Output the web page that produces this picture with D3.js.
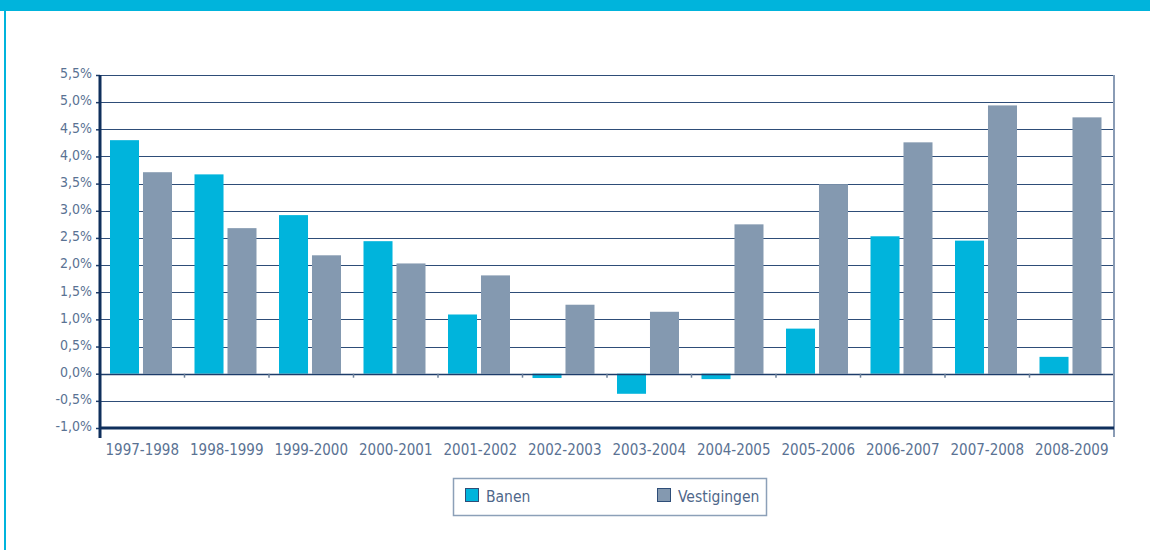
<!DOCTYPE html>
<html>
<head>
<meta charset="utf-8">
<script src="https://cdn.jsdelivr.net/npm/d3@7"></script>
<style>
  body { margin: 0; background: #fff; }
  svg text { font-family: "DejaVu Sans", sans-serif; font-stretch: condensed; }
</style>
</head>
<body>
<script>
// data
var periods = ["1997-1998", "1998-1999", "1999-2000", "2000-2001", "2001-2002", "2002-2003",
               "2003-2004", "2004-2005", "2005-2006", "2006-2007", "2007-2008", "2008-2009"];
var banen = [4.30, 3.67, 2.92, 2.44, 1.09, -0.08, -0.37, -0.10, 0.83, 2.53, 2.45, 0.31];
var vestigingen = [3.71, 2.68, 2.18, 2.03, 1.81, 1.27, 1.14, 2.75, 3.49, 4.26, 4.94, 4.72];
var seriesNames = ["Banen", "Vestigingen"];
var yTicks = [-1, -0.5, 0, 0.5, 1, 1.5, 2, 2.5, 3, 3.5, 4, 4.5, 5, 5.5];

// chart variables
var width = 1150;
var height = 550;
var plotLeft = 100, plotRight = 1114, plotTop = 75, plotBottom = 428;
var cyan = "#00b4dc";
var grey = "#8499b0";
var navy = "#1d3c6a";

var svg = d3.select("body")
            .append("svg")
            .attr("width", width)
            .attr("height", height);

// frame of the page
svg.append("rect").attr("x", 0).attr("y", 0).attr("width", width).attr("height", 11).attr("fill", cyan);
svg.append("rect").attr("x", 4).attr("y", 0).attr("width", 2).attr("height", height).attr("fill", cyan);

// scales
var xScale = d3.scaleBand()
               .domain(periods)
               .range([plotLeft, plotRight]);
var xInner = d3.scaleBand()
               .domain(seriesNames)
               .range([10, 72])
               .paddingInner(0.12);
var yScale = d3.scaleLinear()
               .domain([-1, 5.5])
               .range([plotBottom, plotTop]);

// gridlines
svg.append("g")
   .selectAll("line")
   .data(yTicks.filter(function(d) { return d > -1; }))
   .enter()
   .append("line")
   .attr("x1", plotLeft)
   .attr("x2", plotRight)
   .attr("y1", function(d) { return Math.round(yScale(d)) + 0.5; })
   .attr("y2", function(d) { return Math.round(yScale(d)) + 0.5; })
   .attr("stroke", function(d) { return d === 0 ? navy : "#2e4d78"; })
   .attr("stroke-width", 1.2);

// bars
var rows = periods.map(function(p, i) { return {period: p, values: [banen[i], vestigingen[i]]}; });
var groups = svg.append("g")
                .selectAll("g")
                .data(rows)
                .enter()
                .append("g")
                .attr("transform", function(d) { return "translate(" + xScale(d.period) + ",0)"; });

groups.selectAll("rect")
      .data(function(d) { return d.values.map(function(v, j) { return {name: seriesNames[j], value: v}; }); })
      .enter()
      .append("rect")
      .attr("x", function(d) { return xInner(d.name); })
      .attr("width", xInner.bandwidth())
      .attr("y", function(d) { return yScale(Math.max(0, d.value)); })
      .attr("height", function(d) { return Math.abs(yScale(d.value) - yScale(0)); })
      .attr("fill", function(d) { return d.name === "Banen" ? cyan : grey; });

// redraw zero line over bars
svg.append("line")
   .attr("x1", plotLeft).attr("x2", plotRight)
   .attr("y1", Math.round(yScale(0)) + 0.5).attr("y2", Math.round(yScale(0)) + 0.5)
   .attr("stroke", navy).attr("stroke-width", 1.3);

// ticks between categories on zero line
svg.append("g")
   .selectAll("line")
   .data(periods.slice(1))
   .enter()
   .append("line")
   .attr("x1", function(d) { return xScale(d); })
   .attr("x2", function(d) { return xScale(d); })
   .attr("y1", yScale(0))
   .attr("y2", yScale(0) + 4)
   .attr("stroke", "#6b7f99")
   .attr("stroke-width", 1.5);

// right border
svg.append("line")
   .attr("x1", plotRight).attr("x2", plotRight)
   .attr("y1", plotTop).attr("y2", plotBottom + 9)
   .attr("stroke", "#8a9cb5").attr("stroke-width", 2);

// bottom axis line
svg.append("line")
   .attr("x1", plotLeft).attr("x2", plotRight)
   .attr("y1", plotBottom).attr("y2", plotBottom)
   .attr("stroke", "#0f2f5c").attr("stroke-width", 3);

// y axis
var yAxe = d3.axisLeft(yScale)
             .tickValues(yTicks)
             .tickSize(4)
             .tickFormat(function(d) { return d3.format(".1f")(d).replace(".", ",").replace("−", "-") + "%"; });
var yG = svg.append("g")
            .attr("transform", "translate(" + [plotLeft, 0] + ")")
            .call(yAxe);
yG.select(".domain").remove();
yG.selectAll(".tick line").attr("stroke", navy).attr("stroke-width", 1.5);
yG.selectAll(".tick text")
  .attr("x", -8)
  .attr("dy", "0.2em")
  .attr("fill", "#5a7293")
  .style("font-size", "14px");
svg.append("line")
   .attr("x1", plotLeft).attr("x2", plotLeft)
   .attr("y1", plotTop).attr("y2", plotBottom + 10)
   .attr("stroke", "#0f2f5c").attr("stroke-width", 3);

// x labels
var xAxe = d3.axisBottom(xScale).tickSize(0);
var xG = svg.append("g")
            .attr("transform", "translate(" + [0, plotBottom + 13] + ")")
            .call(xAxe);
xG.select(".domain").remove();
xG.selectAll(".tick text")
  .attr("fill", "#5a7293")
  .style("font-size", "15px");

// legend
var legend = svg.append("g");
legend.append("rect")
      .attr("x", 453.5).attr("y", 478.5)
      .attr("width", 313).attr("height", 37)
      .attr("fill", "white")
      .attr("stroke", "#8ca0b8")
      .attr("stroke-width", 1.5);

var legendX = [465, 657];
seriesNames.forEach(function(name, i) {
  legend.append("rect")
        .attr("x", legendX[i] + 0.5).attr("y", 488.5)
        .attr("width", 13).attr("height", 13)
        .attr("fill", name === "Banen" ? cyan : grey)
        .attr("stroke", "#2e4d78")
        .attr("stroke-width", 1);
  legend.append("text")
        .attr("x", legendX[i] + 21)
        .attr("y", 502)
        .attr("fill", "#4f678a")
        .style("font-size", "15.5px")
        .text(name);
});
</script>
</body>
</html>
